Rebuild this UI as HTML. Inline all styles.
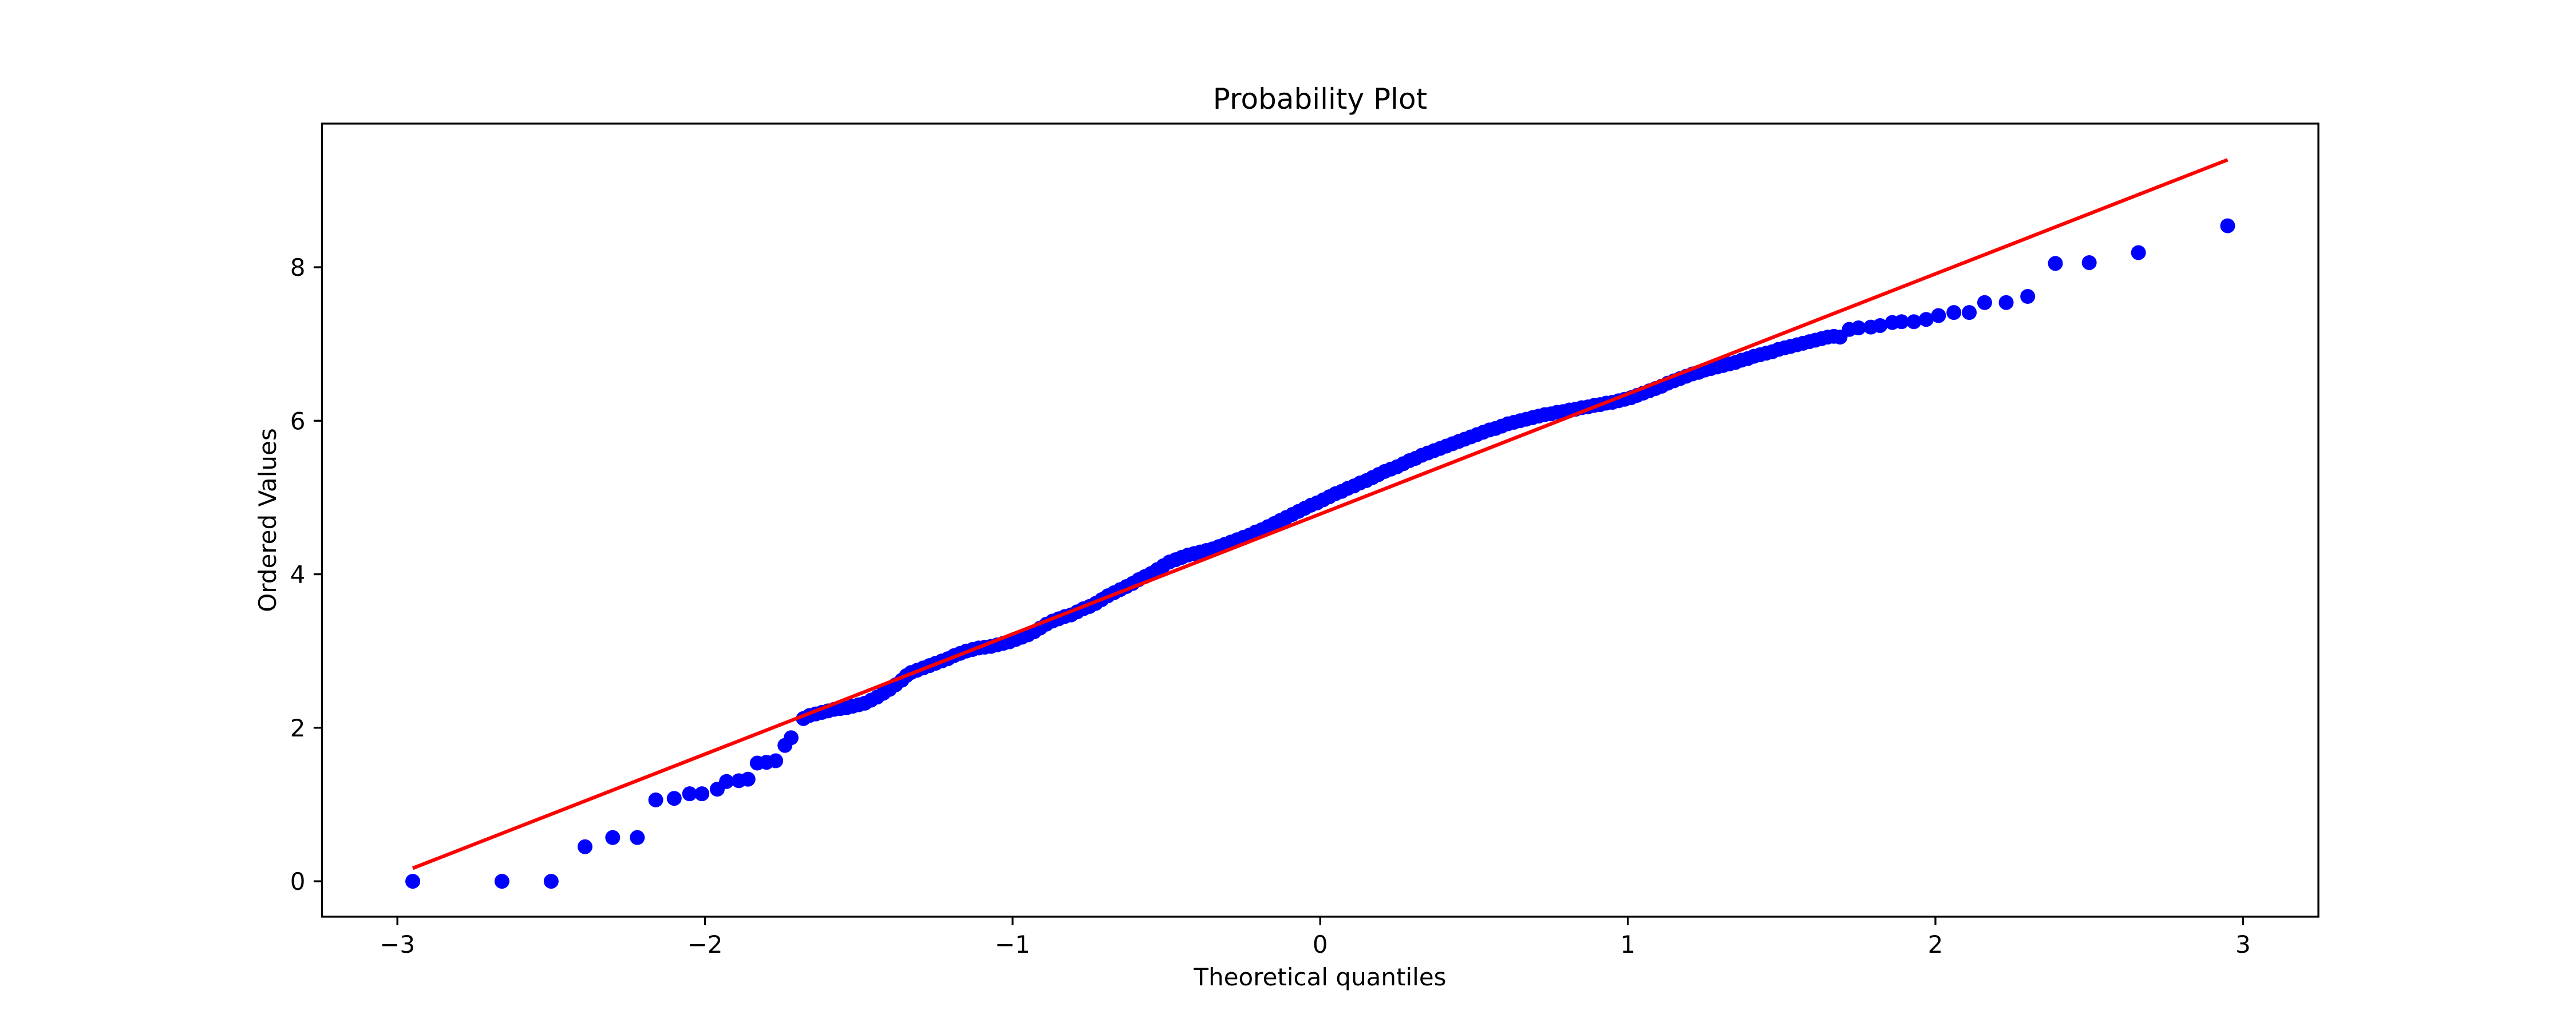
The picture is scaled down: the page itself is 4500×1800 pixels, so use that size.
<!DOCTYPE html>
<html><head><meta charset="utf-8"><style>
html,body{margin:0;padding:0;background:#fff}
svg{display:block}
text{font-family:"DejaVu Sans","Liberation Sans",sans-serif;fill:#000}
</style></head><body>
<svg id="chart" width="4500" height="1800" viewBox="0 0 4500 1800" xmlns="http://www.w3.org/2000/svg">
<rect width="4500" height="1800" fill="#fff"/>
<g id="marks"></g>
<g id="axes"></g>
<text x="2306" y="190" font-size="50" text-anchor="middle">Probability Plot</text>
<text x="2306" y="1722" font-size="42" text-anchor="middle">Theoretical quantiles</text>
<text x="0" y="0" font-size="42" text-anchor="middle" transform="translate(482,909) rotate(-90)">Ordered Values</text>
</svg>
<script>
const quantilesX = [-2.95,-2.66,-2.50,-2.39,-2.30,-2.22,-2.16,-2.10,-2.05,-2.01,-1.96,-1.93,-1.89,-1.86,-1.83,-1.80,-1.77,-1.74,-1.72,
-1.68,-1.64,-1.60,-1.56,-1.52,-1.48,-1.44,-1.40,-1.36,-1.33,-1.29,-1.25,-1.21,-1.17,-1.13,-1.09,-1.05,-1.01,-0.97,-0.93,-0.89,-0.85,-0.81,-0.77,-0.73,-0.69,-0.65,-0.61,-0.57,-0.53,-0.49,-0.45,-0.41,-0.37,-0.33,-0.29,-0.25,-0.21,-0.17,-0.13,-0.09,-0.05,-0.01,0.03,0.07,0.11,0.15,0.19,0.23,0.27,0.31,0.35,0.39,0.43,0.47,0.51,0.55,0.59,0.63,0.67,0.71,0.75,0.79,0.83,0.87,0.91,0.95,0.99,1.03,1.07,1.11,1.15,1.19,1.23,1.27,1.31,1.35,1.39,1.43,1.47,1.51,1.55,1.59,1.63,1.67,
1.69,1.72,1.75,1.79,1.82,1.86,1.89,1.93,1.97,2.01,2.06,2.11,2.16,2.23,2.30,2.39,2.50,2.66,2.95,
-1.66,-1.62,-1.58,-1.54,-1.50,-1.46,-1.42,-1.38,-1.345,-1.31,-1.27,-1.23,-1.19,-1.15,-1.11,-1.07,-1.03,-0.99,-0.95,-0.91,-0.87,-0.83,-0.79,-0.75,-0.71,-0.67,-0.63,-0.59,-0.55,-0.51,-0.47,-0.43,-0.39,-0.35,-0.31,-0.27,-0.23,-0.19,-0.15,-0.11,-0.07,-0.03,0.01,0.05,0.09,0.13,0.17,0.21,0.25,0.29,0.33,0.37,0.41,0.45,0.49,0.53,0.57,0.61,0.65,0.69,0.73,0.77,0.81,0.85,0.89,0.93,0.97,1.01,1.05,1.09,1.13,1.17,1.21,1.25,1.29,1.33,1.37,1.41,1.45,1.49,1.53,1.57,1.61,1.65];
const orderedY = [0,0,0,0.45,0.57,0.57,1.06,1.08,1.14,1.14,1.20,1.30,1.31,1.33,1.54,1.55,1.57,1.77,1.87,
2.12,2.18,2.22,2.25,2.28,2.32,2.40,2.50,2.62,2.72,2.78,2.84,2.90,2.97,3.02,3.05,3.08,3.12,3.18,3.25,3.35,3.42,3.47,3.55,3.62,3.72,3.80,3.88,3.97,4.06,4.16,4.22,4.27,4.31,4.36,4.42,4.48,4.55,4.62,4.70,4.78,4.86,4.93,5.01,5.08,5.15,5.22,5.30,5.37,5.44,5.51,5.58,5.64,5.70,5.76,5.82,5.88,5.93,5.98,6.02,6.06,6.09,6.12,6.15,6.18,6.21,6.24,6.28,6.33,6.39,6.45,6.52,6.58,6.63,6.68,6.72,6.76,6.81,6.86,6.90,6.95,6.99,7.03,7.07,7.10,
7.09,7.19,7.21,7.22,7.24,7.28,7.29,7.29,7.32,7.37,7.41,7.41,7.54,7.54,7.62,8.05,8.06,8.19,8.54,
2.16,2.20,2.24,2.26,2.30,2.36,2.45,2.56,2.68,2.75,2.81,2.87,2.94,3.00,3.04,3.06,3.10,3.15,3.21,3.30,3.39,3.45,3.51,3.58,3.67,3.76,3.84,3.93,4.01,4.11,4.19,4.25,4.29,4.33,4.39,4.45,4.51,4.58,4.66,4.74,4.82,4.90,4.97,5.05,5.12,5.19,5.26,5.34,5.40,5.48,5.55,5.61,5.67,5.73,5.79,5.85,5.90,5.96,6.00,6.04,6.08,6.11,6.14,6.17,6.20,6.23,6.26,6.30,6.36,6.42,6.49,6.55,6.61,6.66,6.70,6.74,6.79,6.84,6.88,6.93,6.97,7.01,7.05,7.09];
const fitLineX = [-2.95, 2.95];
const fitLineY = [0.17, 9.40];
const xTicks = [-3,-2,-1,0,1,2,3];
const xTickLabels = ["\u22123","\u22122","\u22121","0","1","2","3"];
const yTicks = [0,2,4,6,8];
const yTickLabels = ["0","2","4","6","8"];

const L=562.5,R=4050,T=216,B=1602;
const xMin=-3.245,xMax=3.245,yMin=-0.4615,yMax=9.8715;
const sx=v=>L+(v-xMin)/(xMax-xMin)*(R-L);
const sy=v=>B-(v-yMin)/(yMax-yMin)*(B-T);
const NS="http://www.w3.org/2000/svg";
const marks=document.getElementById('marks');
const axes=document.getElementById('axes');
for(let i=0;i<quantilesX.length;i++){
  const c=document.createElementNS(NS,'circle');
  c.setAttribute('cx',sx(quantilesX[i]));c.setAttribute('cy',sy(orderedY[i]));
  c.setAttribute('r',13);c.setAttribute('fill','#0000ff');
  
  
  marks.appendChild(c);
}
const ln=document.createElementNS(NS,'line');
ln.setAttribute('x1',sx(fitLineX[0]));ln.setAttribute('y1',sy(fitLineY[0]));
ln.setAttribute('x2',sx(fitLineX[1]));ln.setAttribute('y2',sy(fitLineY[1]));
ln.setAttribute('stroke','#ff0000');ln.setAttribute('stroke-width',6.25);


marks.appendChild(ln);
const fr=document.createElementNS(NS,'rect');
fr.setAttribute('x',L);fr.setAttribute('y',T);fr.setAttribute('width',R-L);fr.setAttribute('height',B-T);
fr.setAttribute('fill','none');fr.setAttribute('stroke','#000');fr.setAttribute('stroke-width',3.3);


axes.appendChild(fr);
xTicks.forEach((v,i)=>{
  const x=sx(v);
  const t=document.createElementNS(NS,'line');
  t.setAttribute('x1',x);t.setAttribute('x2',x);t.setAttribute('y1',B);t.setAttribute('y2',B+14.6);
  t.setAttribute('stroke','#000');t.setAttribute('stroke-width',3.3);
  
  
  axes.appendChild(t);
  const tx=document.createElementNS(NS,'text');
  tx.setAttribute('x',x);tx.setAttribute('y',B+63);tx.setAttribute('font-size',42);tx.setAttribute('text-anchor','middle');
  tx.textContent=xTickLabels[i];
  
  
  axes.appendChild(tx);
});
yTicks.forEach((v,i)=>{
  const y=sy(v);
  const t=document.createElementNS(NS,'line');
  t.setAttribute('x1',L-14.6);t.setAttribute('x2',L);t.setAttribute('y1',y);t.setAttribute('y2',y);
  t.setAttribute('stroke','#000');t.setAttribute('stroke-width',3.3);
  
  
  axes.appendChild(t);
  const tx=document.createElementNS(NS,'text');
  tx.setAttribute('x',L-29);tx.setAttribute('y',y+15);tx.setAttribute('font-size',42);tx.setAttribute('text-anchor','end');
  tx.textContent=yTickLabels[i];
  
  
  axes.appendChild(tx);
});
</script>
</body></html>
